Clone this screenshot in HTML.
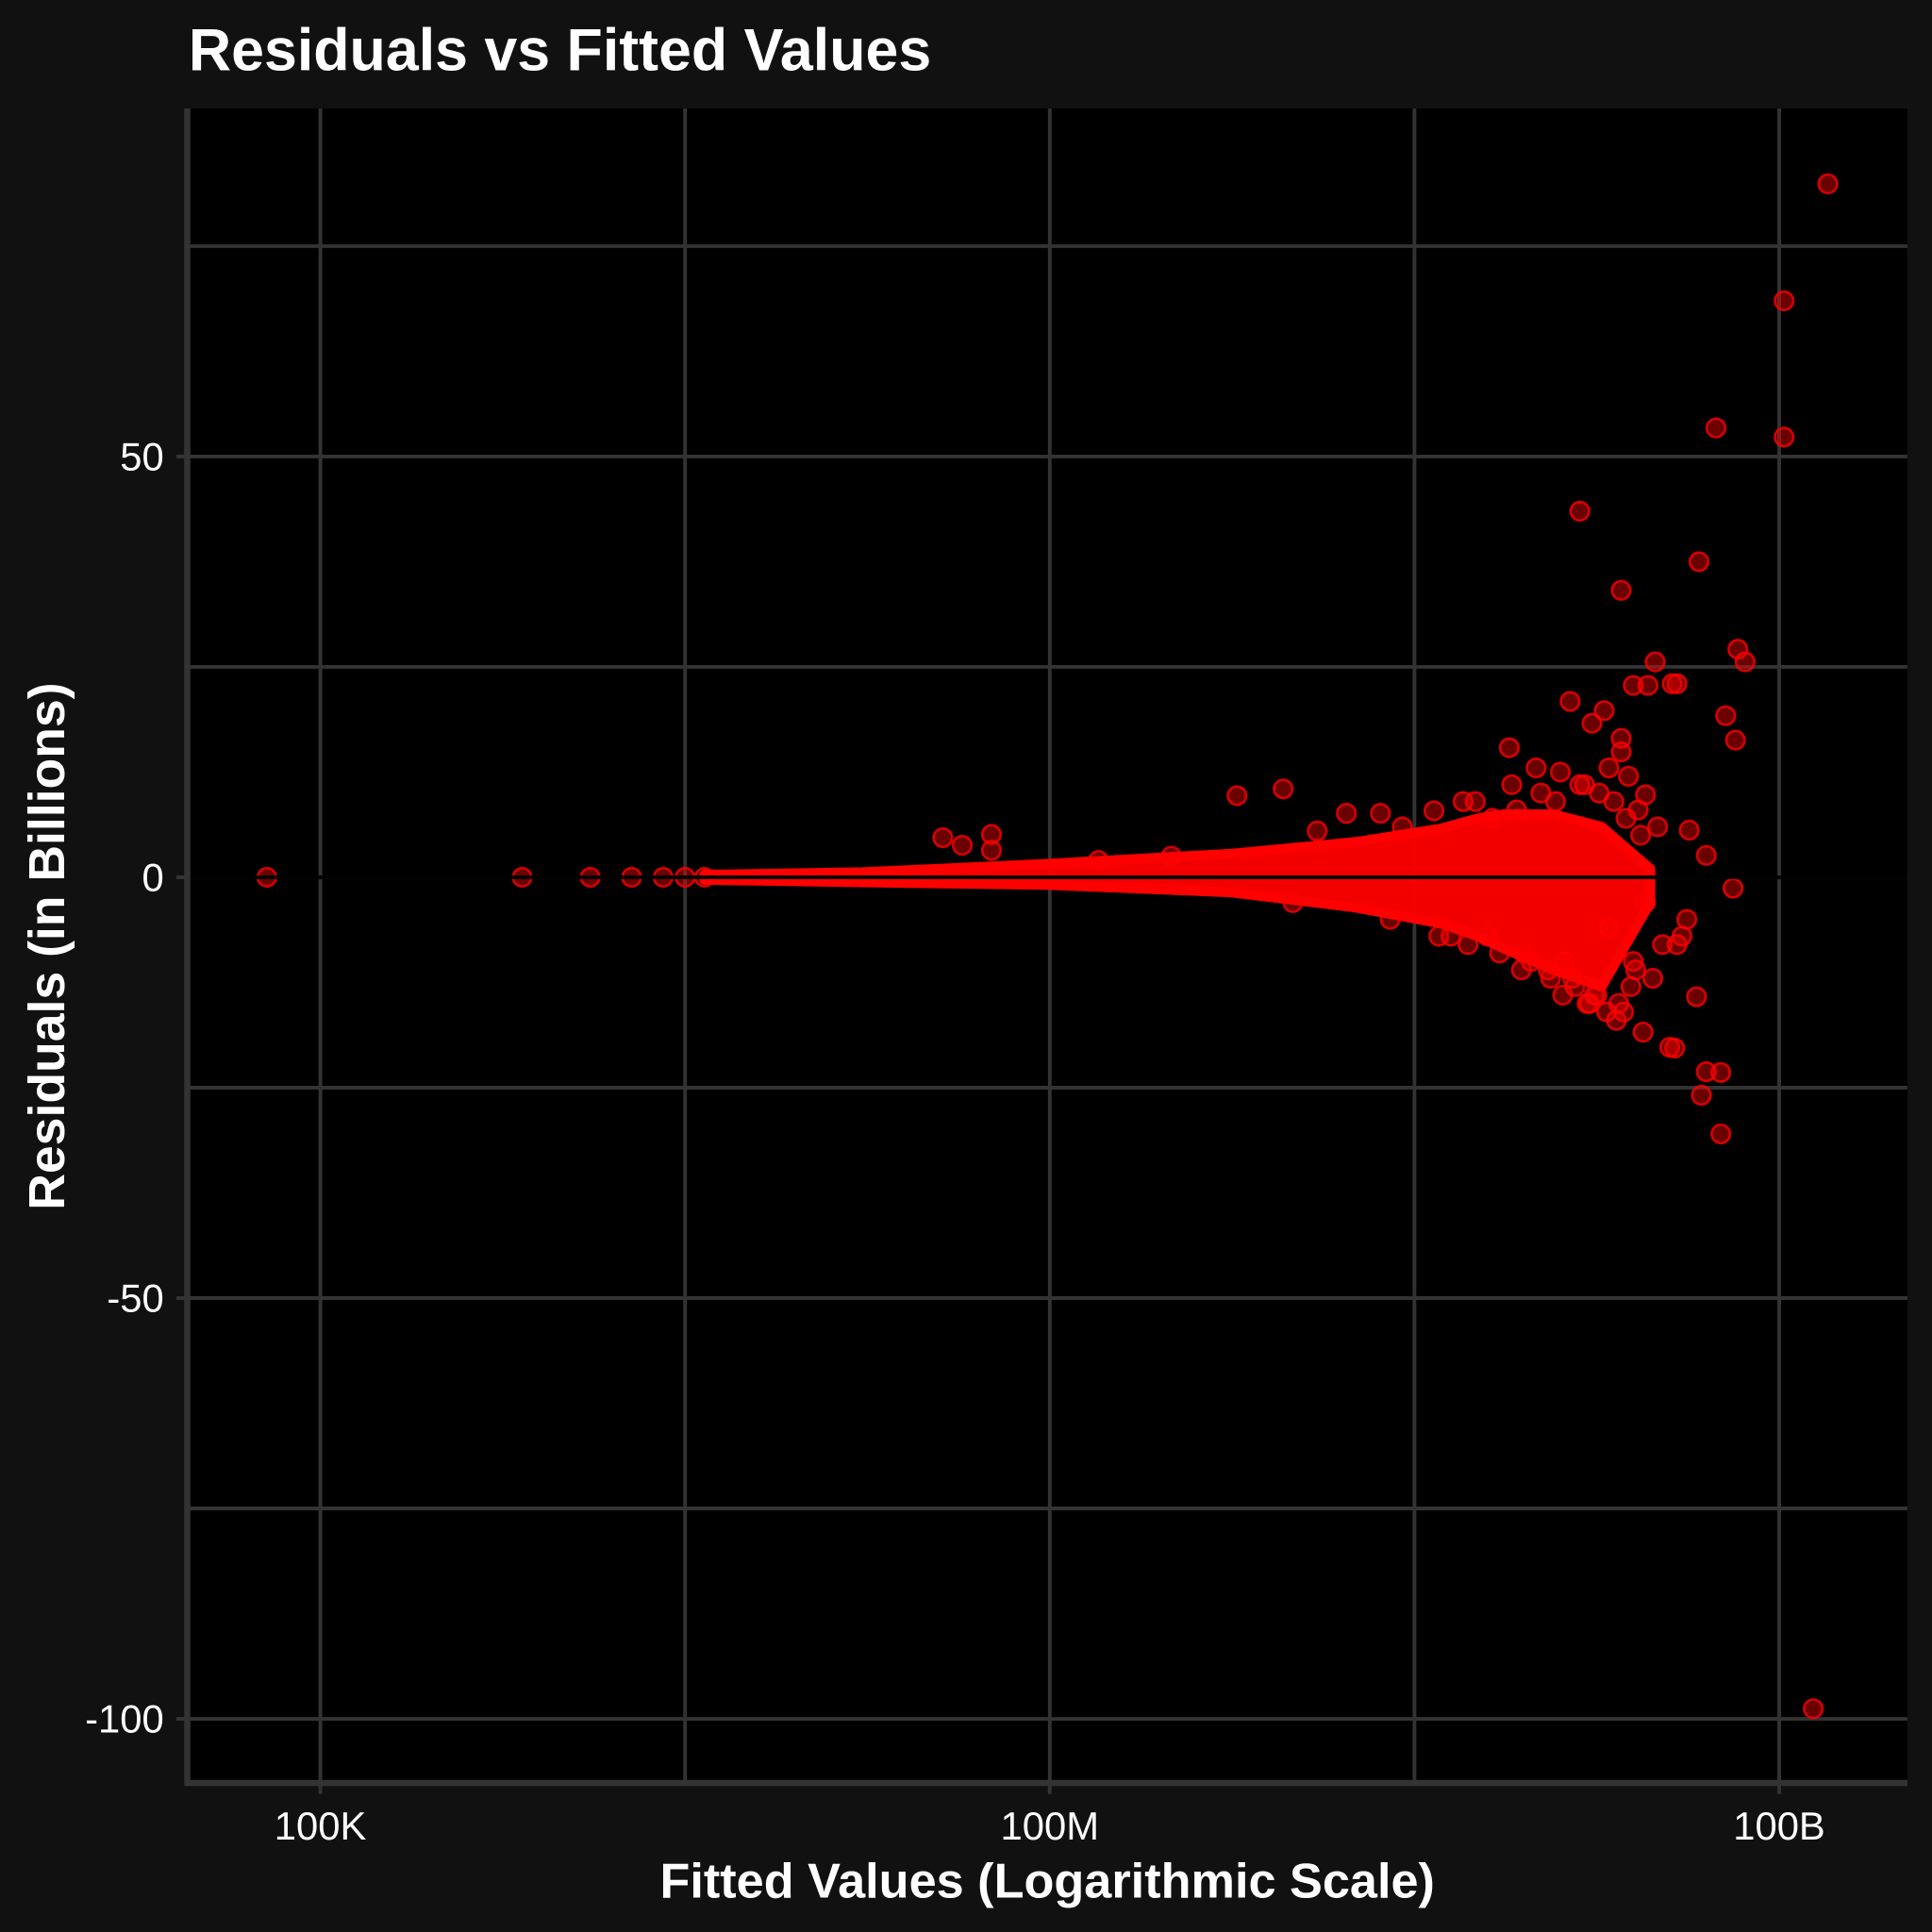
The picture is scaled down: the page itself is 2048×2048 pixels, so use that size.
<!DOCTYPE html>
<html><head><meta charset="utf-8"><style>html,body{margin:0;padding:0;background:#111}svg{display:block}</style></head>
<body>
<svg id="chart" width="2048" height="2048" viewBox="0 0 1568 1568" xmlns="http://www.w3.org/2000/svg" font-family="Liberation Sans, Arial, sans-serif">
<rect x="0" y="0" width="1568" height="1568" fill="#111"/>
<rect x="152" y="88" width="1396" height="1359" fill="#000"/>
<g id="grid"></g>
<g id="cloud"></g>
<g id="pts"></g>
<line x1="152" x2="1548" y1="712" y2="712" stroke="#000" stroke-width="3"/>
<line x1="152" x2="152" y1="88" y2="1449" stroke="#333" stroke-width="5"/>
<line x1="150" x2="1548" y1="1447" y2="1447" stroke="#333" stroke-width="5"/>
<g id="labels"></g>
<text x="153" y="57" fill="#fff" font-size="48" font-weight="bold">Residuals vs Fitted Values</text>
<text x="850" y="1540" fill="#fff" font-size="40" font-weight="bold" text-anchor="middle">Fitted Values (Logarithmic Scale)</text>
<text transform="translate(52,768) rotate(-90)" fill="#fff" font-size="41" font-weight="bold" text-anchor="middle">Residuals (in Billions)</text>
</svg>
<script>
const xTicks=[5,8,11];
const xTickLabels=["100K","100M","100B"];
const xMinor=[6.5,9.5];
const yTicks=[-100,-50,0,50];
const yTickLabels=["-100","-50","0","50"];
const yMinor=[-75,-25,25,75];
const ptLogX=[11.20,11.02,10.74,11.02,10.18,10.67,10.35,10.49,10.83,10.86,10.40,10.46,10.56,10.58,10.14,10.28,10.23,10.78,10.82,10.35,10.35,9.89,8.77,8.96,10.45,10.63,10.70,10.81,10.66,10.55,10.57,10.70,10.76,10.68,10.76,11.14,10.44,10.33,7.56,7.64,7.76,7.76,9.22,9.36,9.58,4.78,5.83,6.11,6.28,6.41,6.50,6.58,10.10,10.20,10.30,10.38,10.42,10.50,10.52,10.60,10.25,10.15,10.05,9.95,10.36,10.48,10.40,10.30,9.80,9.70,9.90,10.00,10.12,10.22,10.62,10.58,10.45,8.50,8.20,9.10,9.45,9.75,9.82,9.92,10.02,10.08,10.18,10.26,10.32,10.37,10.43,9.65,9.72,9.85,9.98,10.06,10.16,10.24,10.34,10.41,10.39,10.29,10.21,10.11,9.94,9.60,9.40,9.00];
const ptRes=[82.4,68.5,53.4,52.3,43.5,37.5,34.1,25.6,27.1,25.6,22.8,22.8,23.0,23.0,20.9,19.8,18.3,19.2,16.3,16.5,14.9,15.4,9.7,10.5,9.8,5.6,2.6,-1.3,-14.2,-20.2,-20.3,-23.1,-23.2,-25.9,-30.5,-98.8,-18.4,-17.0,4.7,3.8,5.1,3.2,7.6,7.6,7.9,0,0,0,0,0,0,0,12.5,11,13,12,8,6,-8,-7,-14,-12,-11,-9,-16,-12,-10,-6,-7,9,11,13,-10,-15,-5,-8,-3,2.5,2,5.5,6,9,7,8,10,9,11,10,9,7,5,-7,-8,-9,-10,-12,-13,-14,-15,-11,-13,-16,-15,-14,-11,-7,-5,-3];
const cloudX=[6.58,7.23,7.99,8.75,9.26,9.61,9.76,9.87,10.07,10.27,10.47];
const cloudUpper=[0.3,0.6,1.6,2.8,4.2,5.8,7,7.5,7.5,6,1];
const cloudLower=[-0.3,-0.6,-0.9,-1.8,-3.6,-5.5,-7,-8.5,-11,-13,-3];
const NS="http://www.w3.org/2000/svg";
const sx=v=>260+(v-5)*197.33;
const sy=v=>712-v*6.83;
function mk(tag,attrs,parent){const e=document.createElementNS(NS,tag);for(const k in attrs)e.setAttribute(k,attrs[k]);document.getElementById(parent).appendChild(e);return e;}
xMinor.concat(xTicks).forEach(v=>{const e=mk('line',{x1:sx(v),x2:sx(v),y1:88,y2:1447,stroke:'#333','stroke-width':3},'grid');

});
yMinor.concat(yTicks).forEach(v=>{const e=mk('line',{x1:152,x2:1548,y1:sy(v),y2:sy(v),stroke:'#333','stroke-width':3},'grid');

});
xTicks.forEach((v,i)=>{const e=mk('text',{x:sx(v),y:1493,fill:'#fff','font-size':32,'text-anchor':'middle'},'labels');e.textContent=xTickLabels[i];


const t=mk('line',{x1:sx(v),x2:sx(v),y1:1447,y2:1456,stroke:'#333','stroke-width':3},'labels');

});
yTicks.forEach((v,i)=>{const e=mk('text',{x:133,y:sy(v)+11,fill:'#fff','font-size':32,'text-anchor':'end'},'labels');e.textContent=yTickLabels[i];


const t=mk('line',{x1:143,x2:152,y1:sy(v),y2:sy(v),stroke:'#333','stroke-width':3},'labels');

});
let d='M'+cloudX.map((x,i)=>sx(x)+','+sy(cloudUpper[i])).join(' L');
for(let i=cloudX.length-1;i>=0;i--)d+=' L'+sx(cloudX[i])+','+sy(cloudLower[i]);
const c=mk('path',{d:d+'Z',fill:'#f00','fill-opacity':0.95,stroke:'#f00','stroke-width':8,'stroke-linejoin':'round'},'cloud');


ptLogX.forEach((x,i)=>{const p=mk('circle',{cx:sx(x),cy:sy(ptRes[i]),r:7.5,fill:'rgba(255,0,0,0.42)',stroke:'rgba(255,0,0,0.8)','stroke-width':2},'pts');

});
</script>
</body></html>
